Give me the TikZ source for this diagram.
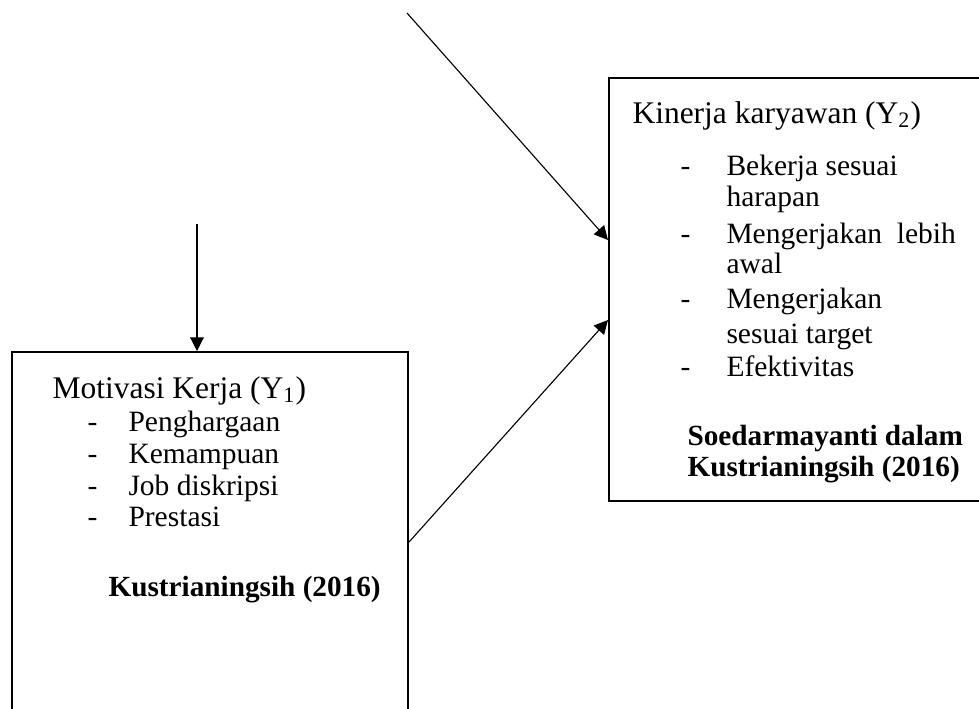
\documentclass[tikz,border=0pt]{standalone}
\usepackage{fontspec}
\setmainfont{Liberation Serif}
\usetikzlibrary{arrows.meta, positioning}

\begin{document}
\begin{tikzpicture}[x=0.4pt, y=-0.4pt, font=\fontsize{11.8}{14}\selectfont,
		box/.style={draw, line width=0.8pt, anchor=north west, inner sep=0pt},
		txt/.style={anchor=base west, inner sep=0pt},
		head/.style={txt, font=\fontsize{12.6}{15}\selectfont},
		src/.style={txt, font=\fontsize{11.7}{14}\selectfont\bfseries},
		arr/.style={line width=0.45pt, -{Triangle[length=5.5pt, width=5.5pt]}}]
		\useasboundingbox (0,0) rectangle (979,708);
		% the two boxes
		\node[box, minimum width=158.4pt, minimum height=152pt] (y1box) at (11,351) {};
		\node[box, minimum width=154pt, minimum height=169.2pt] (y2box) at (608,77) {};
		% motivasi kerja
		\node[head] (y1title) at (52,398) {Motivasi Kerja (Y\textsubscript{1})};
		\foreach \t [count=\i] in {Penghargaan, Kemampuan, Job diskripsi, Prestasi} {
				\node[txt] (y1dash\i) at (87,{400+\i*31.7}) {-};
				\node[txt] (y1item\i) at (128,{400+\i*31.7}) {\t};
			}
		\node[src] (y1src) at (108,596) {Kustrianingsih (2016)};
		% kinerja karyawan
		\node[head] (y2title) at (632,123) {Kinerja karyawan (Y\textsubscript{2})};
		\foreach \y/\t in {175/Bekerja sesuai, 243/Mengerjakan\ \ lebih, 308/Mengerjakan, 376/Efektivitas} {
				\node[txt] at (680,\y) {-};
				\node[txt] at (726,\y) {\t};
			}
		\node[txt] (y2cont1) at (726,206) {harapan};
		\node[txt] (y2cont2) at (726,273) {awal};
		\node[txt] (y2cont3) at (726,343) {sesuai target};
		\node[src] (y2src1) at (687,445) {Soedarmayanti dalam};
		\node[src] (y2src2) at (687,476) {Kustrianingsih (2016)};
		% arrows
		\coordinate (in1) at (407,13);
		\coordinate (in2) at (197,224);
		\draw[arr] (in1) -- (y2box.west |- 0,240);
		\draw[arr] (y1box.east |- 0,542) -- (y2box.west |- 0,320);
		\draw[arr] (in2) -- (in2 |- y1box.north);
	\end{tikzpicture}
\end{document}
